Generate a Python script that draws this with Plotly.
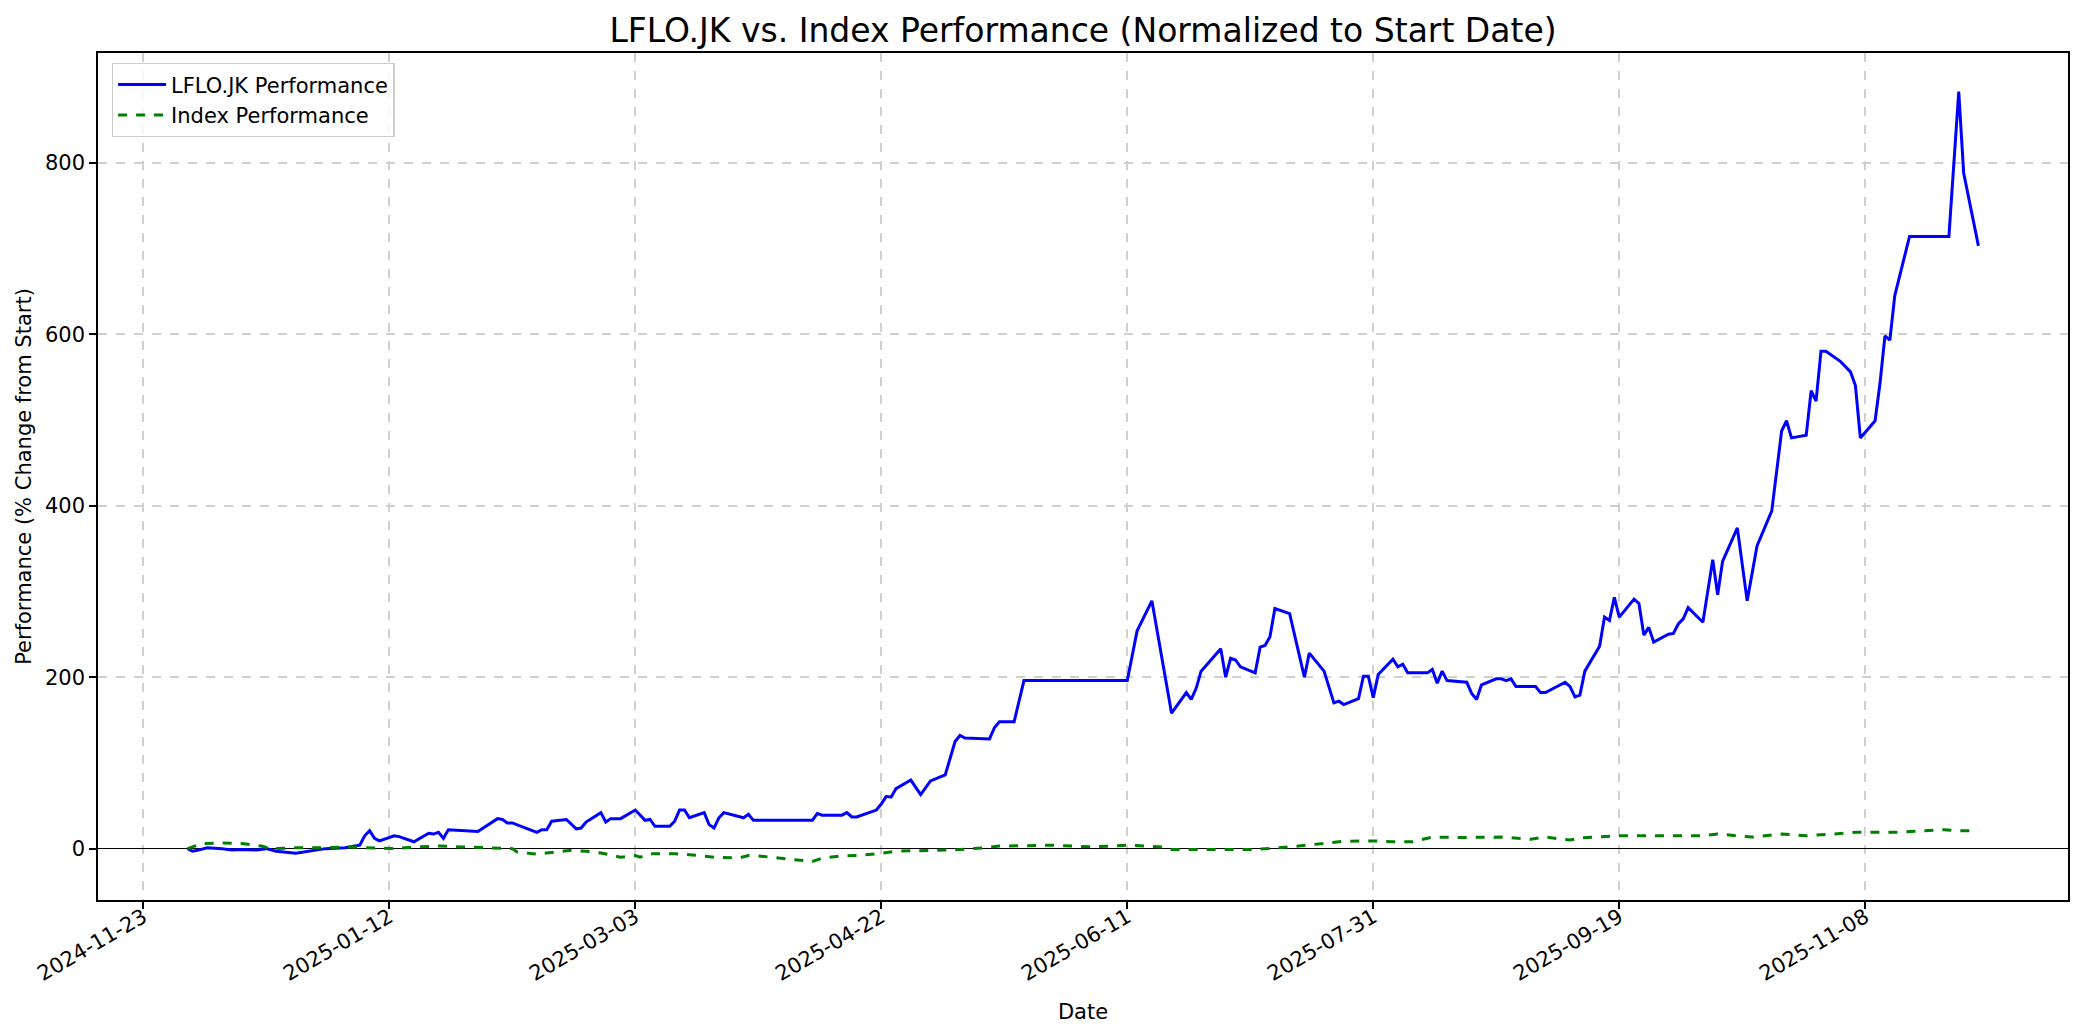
import plotly.graph_objects as go

# ---- data ----
lflo_dates = [
    "2024-12-02", "2024-12-03", "2024-12-04", "2024-12-06", "2024-12-09", "2024-12-11",
    "2024-12-13", "2024-12-16", "2024-12-18", "2024-12-20", "2024-12-24", "2024-12-27",
    "2024-12-30", "2025-01-03", "2025-01-06", "2025-01-07", "2025-01-08", "2025-01-09",
    "2025-01-10", "2025-01-13", "2025-01-14", "2025-01-17", "2025-01-20", "2025-01-21",
    "2025-01-22", "2025-01-23", "2025-01-24", "2025-01-30", "2025-02-03", "2025-02-04",
    "2025-02-05", "2025-02-06", "2025-02-11", "2025-02-12", "2025-02-13", "2025-02-14",
    "2025-02-17", "2025-02-19", "2025-02-20", "2025-02-21", "2025-02-24", "2025-02-25",
    "2025-02-26", "2025-02-28", "2025-03-03", "2025-03-05", "2025-03-06", "2025-03-07",
    "2025-03-10", "2025-03-11", "2025-03-12", "2025-03-13", "2025-03-14", "2025-03-17",
    "2025-03-18", "2025-03-19", "2025-03-20", "2025-03-21", "2025-03-24", "2025-03-25",
    "2025-03-26", "2025-03-27", "2025-04-08", "2025-04-09", "2025-04-10", "2025-04-14",
    "2025-04-15", "2025-04-16", "2025-04-17", "2025-04-21", "2025-04-22", "2025-04-23",
    "2025-04-24", "2025-04-25", "2025-04-28", "2025-04-30", "2025-05-02", "2025-05-05",
    "2025-05-07", "2025-05-08", "2025-05-09", "2025-05-14", "2025-05-15", "2025-05-16",
    "2025-05-19", "2025-05-21", "2025-06-11", "2025-06-13", "2025-06-16", "2025-06-20",
    "2025-06-23", "2025-06-24", "2025-06-25", "2025-06-26", "2025-06-30", "2025-07-01",
    "2025-07-02", "2025-07-03", "2025-07-04", "2025-07-07", "2025-07-08", "2025-07-09",
    "2025-07-10", "2025-07-11", "2025-07-14", "2025-07-17", "2025-07-18", "2025-07-21",
    "2025-07-23", "2025-07-24", "2025-07-25", "2025-07-28", "2025-07-29", "2025-07-30",
    "2025-07-31", "2025-08-01", "2025-08-04", "2025-08-05", "2025-08-06", "2025-08-07",
    "2025-08-11", "2025-08-12", "2025-08-13", "2025-08-14", "2025-08-15", "2025-08-19",
    "2025-08-20", "2025-08-21", "2025-08-22", "2025-08-25", "2025-08-26", "2025-08-27",
    "2025-08-28", "2025-08-29", "2025-09-02", "2025-09-03", "2025-09-04", "2025-09-08",
    "2025-09-09", "2025-09-10", "2025-09-11", "2025-09-12", "2025-09-15", "2025-09-16",
    "2025-09-17", "2025-09-18", "2025-09-19", "2025-09-22", "2025-09-23", "2025-09-24",
    "2025-09-25", "2025-09-26", "2025-09-29", "2025-09-30", "2025-10-01", "2025-10-02",
    "2025-10-03", "2025-10-06", "2025-10-08", "2025-10-09", "2025-10-10", "2025-10-13",
    "2025-10-15", "2025-10-17", "2025-10-20", "2025-10-22", "2025-10-23", "2025-10-24",
    "2025-10-27", "2025-10-28", "2025-10-29", "2025-10-30", "2025-10-31", "2025-11-03",
    "2025-11-05", "2025-11-06", "2025-11-07", "2025-11-10", "2025-11-11", "2025-11-12",
    "2025-11-13", "2025-11-14", "2025-11-17", "2025-11-25", "2025-11-27", "2025-11-28",
    "2025-12-01",
]
lflo_values = [
    0, -3, -2, 1, 0, -1.5,
    -1, -1.5, 0, -3, -5.5, -3,
    0, 1, 4, 15, 21, 12,
    9, 15, 14, 8, 18, 17,
    19, 12, 22, 20, 35, 34,
    30, 30, 19, 22, 22, 32,
    34, 23, 24, 31, 42, 31,
    35, 35, 45, 33, 34, 26,
    26, 32, 45, 45, 36, 42,
    28, 24, 36, 42, 38, 36,
    40, 33, 33, 41, 39, 39,
    42, 37, 37, 45, 52, 61,
    60, 70, 80, 63, 79, 86,
    125, 132, 129, 128, 141, 148,
    148, 196, 196, 254, 289, 158,
    182, 174, 187, 207, 233, 200,
    222, 220, 212, 205, 235, 237,
    247, 280, 274, 200, 228, 207,
    170, 172, 168, 175, 201, 201,
    176, 203, 221, 212, 215, 205,
    205, 209, 193, 207, 196, 194,
    181, 174, 191, 198, 198, 196,
    198, 189, 189, 182, 182, 194,
    189, 177, 179, 207, 236, 270,
    266, 293, 270, 291, 286, 249,
    258, 241, 250, 251, 262, 268,
    281, 264, 337, 296, 335, 374,
    289, 353, 394, 487, 499, 479,
    482, 534, 522, 580, 580, 568,
    556, 540, 479, 499, 543, 598,
    593, 645, 714, 714, 883, 788,
    703,
]

index_dates = [
    "2024-12-02", "2024-12-05", "2024-12-09", "2024-12-13", "2024-12-17", "2024-12-19",
    "2024-12-24", "2024-12-30", "2025-01-03", "2025-01-08", "2025-01-13", "2025-01-17",
    "2025-01-22", "2025-01-27", "2025-01-31", "2025-02-06", "2025-02-07", "2025-02-11",
    "2025-02-13", "2025-02-18", "2025-02-21", "2025-02-24", "2025-02-28", "2025-03-03",
    "2025-03-04", "2025-03-06", "2025-03-11", "2025-03-14", "2025-03-19", "2025-03-24",
    "2025-03-26", "2025-03-28", "2025-04-08", "2025-04-10", "2025-04-14", "2025-04-17",
    "2025-04-22", "2025-04-25", "2025-05-02", "2025-05-08", "2025-05-13", "2025-05-16",
    "2025-05-27", "2025-06-04", "2025-06-11", "2025-06-18", "2025-06-20", "2025-06-26",
    "2025-07-07", "2025-07-14", "2025-07-21", "2025-07-25", "2025-07-31", "2025-08-04",
    "2025-08-08", "2025-08-12", "2025-08-18", "2025-08-26", "2025-09-01", "2025-09-04",
    "2025-09-09", "2025-09-11", "2025-09-19", "2025-09-22", "2025-09-29", "2025-10-06",
    "2025-10-09", "2025-10-13", "2025-10-16", "2025-10-22", "2025-10-27", "2025-11-04",
    "2025-11-06", "2025-11-14", "2025-11-24", "2025-11-27", "2025-12-01",
]
index_values = [
    0, 6, 6.5, 6, 3, 0,
    1, 1, 2, 1, 0, 2,
    3, 2, 1, 0, -4, -6.5,
    -5, -2, -3, -5, -10, -8,
    -10, -6, -6, -7, -10, -11,
    -8, -8.5, -15, -11, -8.5, -8,
    -5.5, -3, -2, -1, 1, 3,
    4, 2, 4, 2, -1, -1,
    -1, 2, 6, 8.5, 9, 8,
    8, 13.5, 13, 13.5, 11, 13.5,
    10, 12.4, 15, 15, 15, 15,
    17, 15, 13.5, 17, 15, 18,
    19, 19, 22, 21, 21,
]

x_tick_vals = ["2024-11-23", "2025-01-12", "2025-03-03", "2025-04-22",
               "2025-06-11", "2025-07-31", "2025-09-19", "2025-11-08"]
x_tick_text = list(x_tick_vals)
y_tick_vals = [0, 200, 400, 600, 800]

# ---- figure ----
W, H = 2084, 1035
font_family = "DejaVu Sans"
FS = 21

fig = go.Figure()
fig.add_trace(go.Scatter(
    x=lflo_dates, y=lflo_values, mode="lines", name="LFLO.JK Performance",
    line=dict(color="#0000ff", width=3),
))
fig.add_trace(go.Scatter(
    x=index_dates, y=index_values, mode="lines", name="Index Performance",
    line=dict(color="#008000", width=3, dash="dash"),
))

axis_common = dict(
    showline=True, mirror=True, linecolor="black", linewidth=1.5,
    ticks="outside", ticklen=7, tickwidth=1.5, tickcolor="black",
    showgrid=True, gridcolor="#d0d0d0", gridwidth=1.5, griddash="dash",
    tickfont=dict(size=FS, color="black", family=font_family),
    title_font=dict(size=FS, color="black", family=font_family),
    automargin=False,
)

fig.update_xaxes(
    **axis_common,
    type="date",
    range=["2024-11-13 19:00", "2025-12-19 05:00"],
    tickmode="array", tickvals=x_tick_vals, ticktext=x_tick_text,
    tickangle=-30,
    ticklabelstandoff=-12,
    zeroline=False,
    title_text="Date",
    title_standoff=19,
)
fig.update_yaxes(
    **axis_common,
    range=[-59.9, 927.9],
    tickmode="array", tickvals=y_tick_vals,
    zeroline=True, zerolinecolor="black", zerolinewidth=1.3,
    title_text="Performance (% Change from Start)",
    title_standoff=8,
)

fig.update_layout(
    width=W, height=H,
    margin=dict(l=98, r=16, t=53, b=135),
    paper_bgcolor="white", plot_bgcolor="white",
    font=dict(family=font_family, color="black", size=FS),
    title=dict(
        text="LFLO.JK vs. Index Performance (Normalized to Start Date)",
        x=0.5, xref="paper", xanchor="center",
        y=1 - 30 / H, yref="container", yanchor="middle",
        font=dict(size=33, color="black", family=font_family),
    ),
    legend=dict(
        x=0.007, y=0.988, xanchor="left", yanchor="top",
        bgcolor="rgba(255,255,255,0.8)", bordercolor="#cccccc", borderwidth=1.3,
        font=dict(size=FS, color="black", family=font_family),
        itemwidth=48,
    ),
    showlegend=True,
)

fig.write_html(
    "out.html",
    config={"displayModeBar": False},
    post_script="document.body.style.margin='0';document.body.style.overflow='hidden';",
)
